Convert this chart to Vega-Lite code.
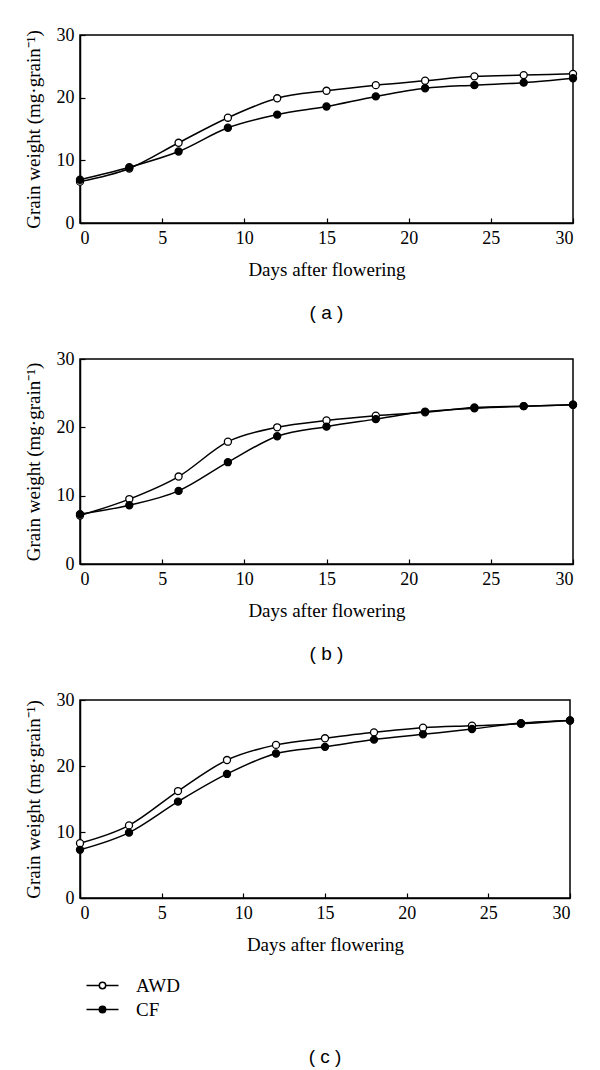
{
  "$schema": "https://vega.github.io/schema/vega-lite/v6.json",
  "padding": {"left": 23, "top": 25, "right": 10, "bottom": 5},
  "datasets": {
    "a": [
      {"day": 0, "weight": 6.6, "series": "AWD"}, {"day": 3, "weight": 8.7, "series": "AWD"}, {"day": 6, "weight": 12.8, "series": "AWD"}, {"day": 9, "weight": 16.8, "series": "AWD"}, {"day": 12, "weight": 19.9, "series": "AWD"}, {"day": 15, "weight": 21.1, "series": "AWD"}, {"day": 18, "weight": 22.0, "series": "AWD"}, {"day": 21, "weight": 22.7, "series": "AWD"}, {"day": 24, "weight": 23.4, "series": "AWD"}, {"day": 27, "weight": 23.6, "series": "AWD"}, {"day": 30, "weight": 23.8, "series": "AWD"},
      {"day": 0, "weight": 6.9, "series": "CF"}, {"day": 3, "weight": 8.9, "series": "CF"}, {"day": 6, "weight": 11.4, "series": "CF"}, {"day": 9, "weight": 15.2, "series": "CF"}, {"day": 12, "weight": 17.3, "series": "CF"}, {"day": 15, "weight": 18.6, "series": "CF"}, {"day": 18, "weight": 20.2, "series": "CF"}, {"day": 21, "weight": 21.5, "series": "CF"}, {"day": 24, "weight": 22.0, "series": "CF"}, {"day": 27, "weight": 22.4, "series": "CF"}, {"day": 30, "weight": 23.1, "series": "CF"}
    ],
    "b": [
      {"day": 0, "weight": 7.1, "series": "AWD"}, {"day": 3, "weight": 9.5, "series": "AWD"}, {"day": 6, "weight": 12.8, "series": "AWD"}, {"day": 9, "weight": 17.9, "series": "AWD"}, {"day": 12, "weight": 20.0, "series": "AWD"}, {"day": 15, "weight": 21.0, "series": "AWD"}, {"day": 18, "weight": 21.7, "series": "AWD"}, {"day": 21, "weight": 22.2, "series": "AWD"}, {"day": 24, "weight": 22.9, "series": "AWD"}, {"day": 27, "weight": 23.1, "series": "AWD"}, {"day": 30, "weight": 23.3, "series": "AWD"},
      {"day": 0, "weight": 7.3, "series": "CF"}, {"day": 3, "weight": 8.6, "series": "CF"}, {"day": 6, "weight": 10.7, "series": "CF"}, {"day": 9, "weight": 14.9, "series": "CF"}, {"day": 12, "weight": 18.7, "series": "CF"}, {"day": 15, "weight": 20.1, "series": "CF"}, {"day": 18, "weight": 21.2, "series": "CF"}, {"day": 21, "weight": 22.3, "series": "CF"}, {"day": 24, "weight": 22.8, "series": "CF"}, {"day": 27, "weight": 23.1, "series": "CF"}, {"day": 30, "weight": 23.3, "series": "CF"}
    ],
    "c": [
      {"day": 0, "weight": 8.3, "series": "AWD"}, {"day": 3, "weight": 11.0, "series": "AWD"}, {"day": 6, "weight": 16.2, "series": "AWD"}, {"day": 9, "weight": 20.9, "series": "AWD"}, {"day": 12, "weight": 23.2, "series": "AWD"}, {"day": 15, "weight": 24.2, "series": "AWD"}, {"day": 18, "weight": 25.1, "series": "AWD"}, {"day": 21, "weight": 25.8, "series": "AWD"}, {"day": 24, "weight": 26.1, "series": "AWD"}, {"day": 27, "weight": 26.4, "series": "AWD"}, {"day": 30, "weight": 26.9, "series": "AWD"},
      {"day": 0, "weight": 7.3, "series": "CF"}, {"day": 3, "weight": 9.9, "series": "CF"}, {"day": 6, "weight": 14.6, "series": "CF"}, {"day": 9, "weight": 18.8, "series": "CF"}, {"day": 12, "weight": 21.9, "series": "CF"}, {"day": 15, "weight": 22.9, "series": "CF"}, {"day": 18, "weight": 24.0, "series": "CF"}, {"day": 21, "weight": 24.8, "series": "CF"}, {"day": 24, "weight": 25.6, "series": "CF"}, {"day": 27, "weight": 26.5, "series": "CF"}, {"day": 30, "weight": 26.9, "series": "CF"}
    ]
  },
  "spacing": 25,
  "resolve": {"legend": {"fill": "independent"}, "scale": {"fill": "independent"}},
  "vconcat": [
    {
      "width": 493, "height": 188,
      "data": {"name": "a"},
      "title": {"text": "( a )", "orient": "bottom", "frame": "group", "anchor": "middle", "offset": 25},
      "encoding": {
        "x": {"field": "day", "type": "quantitative", "scale": {"domain": [0, 30], "nice": false}, "axis": {"values": [0, 5, 10, 15, 20, 25, 30], "title": "Days after flowering"}},
        "y": {"field": "weight", "type": "quantitative", "scale": {"domain": [0, 30], "nice": false}, "axis": {"values": [0, 10, 20, 30], "title": "Grain weight (mg·grain⁻¹)"}}
      },
      "layer": [
        {"mark": {"type": "line", "interpolate": "monotone", "color": "black", "strokeWidth": 1.5}, "encoding": {"detail": {"field": "series"}}},
        {"mark": {"type": "point", "shape": "circle", "size": 50, "stroke": "black", "strokeWidth": 1.3, "opacity": 1},
         "encoding": {"fill": {"field": "series", "type": "nominal", "scale": {"domain": ["AWD", "CF"], "range": ["white", "black"]}, "legend": null}}}
      ]
    },
    {
      "width": 493, "height": 205,
      "data": {"name": "b"},
      "title": {"text": "( b )", "orient": "bottom", "frame": "group", "anchor": "middle", "offset": 25},
      "encoding": {
        "x": {"field": "day", "type": "quantitative", "scale": {"domain": [0, 30], "nice": false}, "axis": {"values": [0, 5, 10, 15, 20, 25, 30], "title": "Days after flowering"}},
        "y": {"field": "weight", "type": "quantitative", "scale": {"domain": [0, 30], "nice": false}, "axis": {"values": [0, 10, 20, 30], "title": "Grain weight (mg·grain⁻¹)"}}
      },
      "layer": [
        {"mark": {"type": "line", "interpolate": "monotone", "color": "black", "strokeWidth": 1.5}, "encoding": {"detail": {"field": "series"}}},
        {"mark": {"type": "point", "shape": "circle", "size": 50, "stroke": "black", "strokeWidth": 1.3, "opacity": 1},
         "encoding": {"fill": {"field": "series", "type": "nominal", "scale": {"domain": ["AWD", "CF"], "range": ["white", "black"]}, "legend": null}}}
      ]
    },
    {
      "width": 490, "height": 198,
      "data": {"name": "c"},
      "title": {"text": "( c )", "orient": "bottom", "frame": "group", "anchor": "middle", "offset": 15},
      "encoding": {
        "x": {"field": "day", "type": "quantitative", "scale": {"domain": [0, 30], "nice": false}, "axis": {"values": [0, 5, 10, 15, 20, 25, 30], "title": "Days after flowering"}},
        "y": {"field": "weight", "type": "quantitative", "scale": {"domain": [0, 30], "nice": false}, "axis": {"values": [0, 10, 20, 30], "title": "Grain weight (mg·grain⁻¹)"}}
      },
      "layer": [
        {"mark": {"type": "line", "interpolate": "monotone", "color": "black", "strokeWidth": 1.5}, "encoding": {"detail": {"field": "series"}}},
        {"mark": {"type": "point", "shape": "circle", "size": 50, "stroke": "black", "strokeWidth": 1.3, "opacity": 1},
         "encoding": {"fill": {"field": "series", "type": "nominal", "title": null, "scale": {"domain": ["AWD", "CF"], "range": ["white", "black"]},
           "legend": {"orient": "bottom", "direction": "vertical", "offset": 9, "padding": 13,
             "symbolType": "M-2,0H-0.4M0.4,0H2M0.4,0A0.4,0.4,0,1,1,-0.4,0A0.4,0.4,0,1,1,0.4,0Z",
             "symbolSize": 256, "symbolStrokeColor": "black", "symbolStrokeWidth": 1.5, "symbolOpacity": 1,
             "labelFont": "Liberation Serif", "labelFontSize": 19, "labelColor": "black", "labelOffset": 24, "rowPadding": 4}}}}
      ]
    }
  ],
  "config": {
    "font": "Liberation Serif",
    "view": {"stroke": "black", "strokeWidth": 1.5},
    "title": {"font": "Liberation Sans", "fontSize": 19, "fontWeight": "normal", "color": "black"},
    "axis": {
      "grid": false, "domainColor": "black", "domainWidth": 1.5, "tickColor": "black", "tickWidth": 1.2, "tickSize": -5,
      "labelFont": "Liberation Serif", "labelFontSize": 18, "labelColor": "black",
      "titleFont": "Liberation Serif", "titleFontSize": 19, "titleFontWeight": "normal", "titleColor": "black"
    },
    "axisX": {"titlePadding": 13, "labelPadding": 11},
    "axisY": {"titlePadding": 13, "labelPadding": 11}
  }
}
